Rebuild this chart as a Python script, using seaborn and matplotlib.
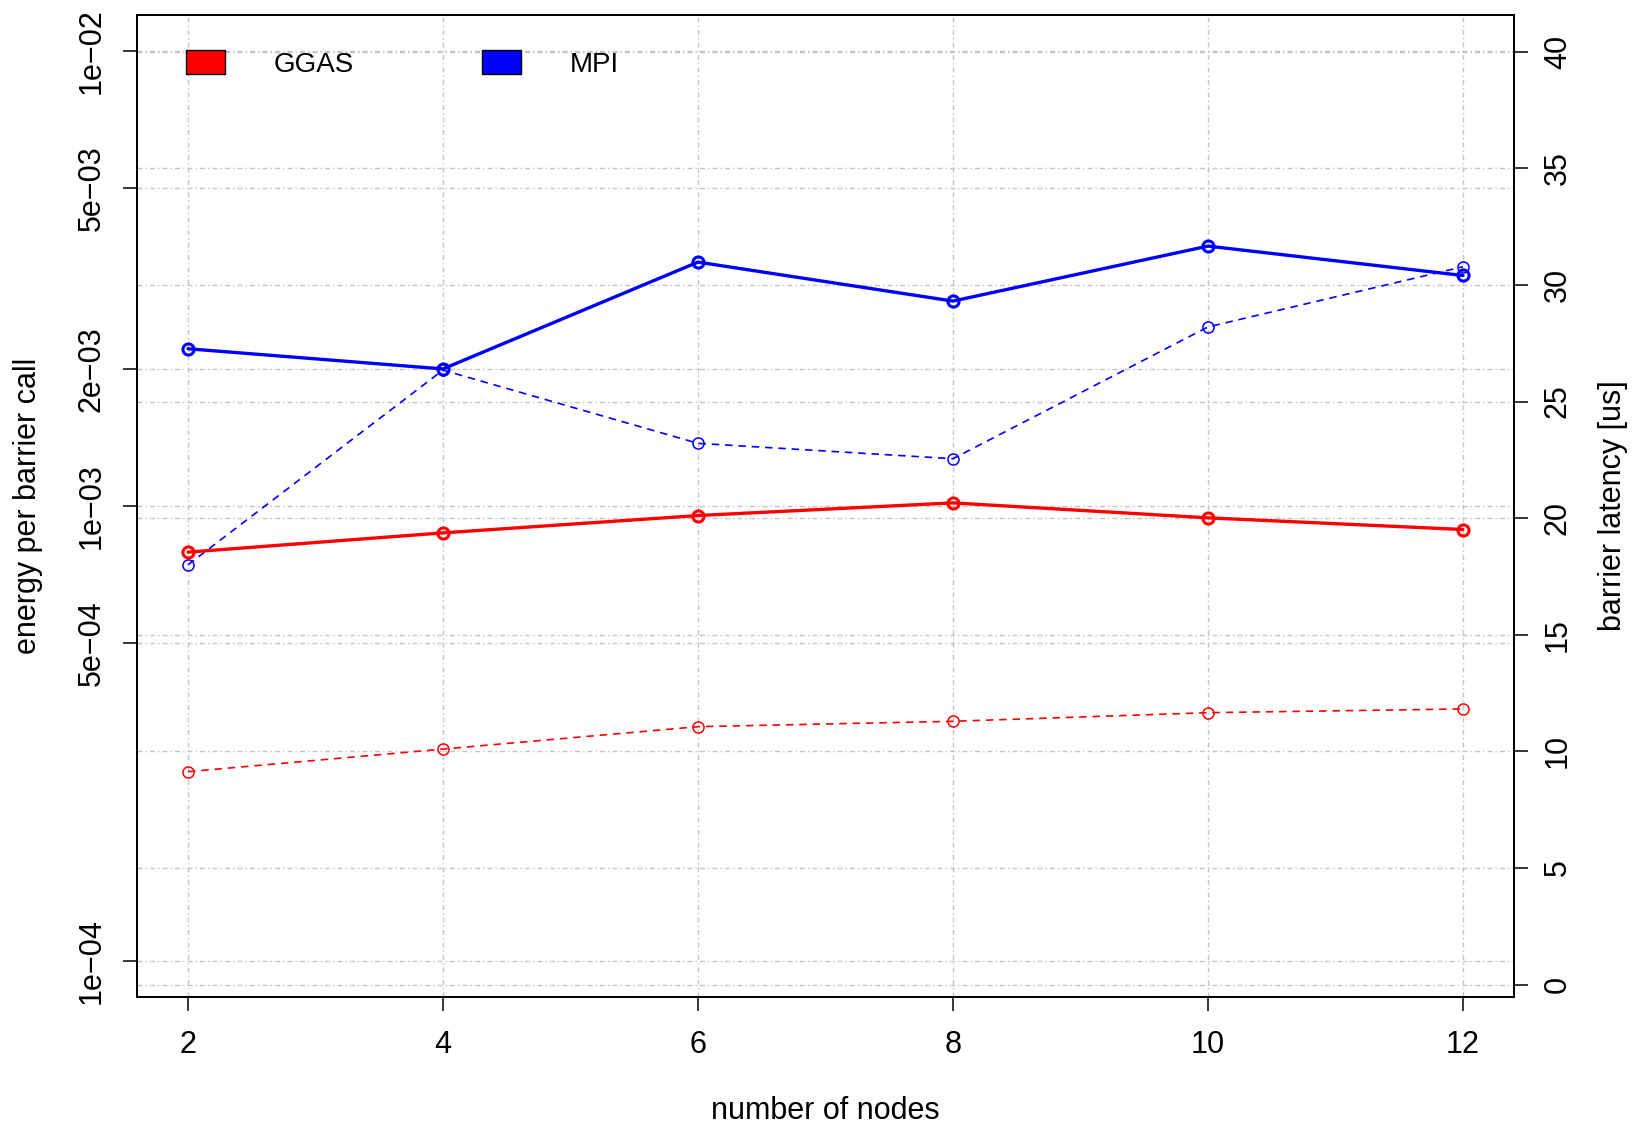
import matplotlib
matplotlib.use('Agg')
import matplotlib.pyplot as plt
from matplotlib.patches import Patch
import seaborn as sns

# data
nodes = [2, 4, 6, 8, 10, 12]
ggas_energy = [7.91e-4, 8.72e-4, 9.52e-4, 1.015e-3, 9.41e-4, 8.87e-4]
mpi_energy = [2.215e-3, 2.0e-3, 3.435e-3, 2.82e-3, 3.725e-3, 3.21e-3]
ggas_latency = [9.13, 10.1, 11.06, 11.29, 11.66, 11.82]
mpi_latency = [18.0, 26.35, 23.21, 22.55, 28.2, 30.78]

energy_ticks = [1e-4, 5e-4, 1e-3, 2e-3, 5e-3, 1e-2]
energy_labels = ['1e\u221204', '5e\u221204', '1e\u221203', '2e\u221203', '5e\u221203', '1e\u221202']
latency_ticks = [0, 5, 10, 15, 20, 25, 30, 35, 40]

sns.set_style('ticks')
plt.rcParams['font.family'] = ['Liberation Sans', 'DejaVu Sans']
plt.rcParams['axes.unicode_minus'] = True
plt.rcParams['text.color'] = 'black'
plt.rcParams['axes.labelcolor'] = 'black'
plt.rcParams['xtick.color'] = 'black'
plt.rcParams['ytick.color'] = 'black'

FS = 22
grid_kw = dict(color='#c4c4c4', linewidth=1.0, linestyle=(0, (3.6, 2.2, 1.0, 2.2)))

fig, ax = plt.subplots(figsize=(16.42, 11.26), dpi=100)
fig.subplots_adjust(left=0.0834, right=0.9220, bottom=0.1146, top=0.98695)

# left axis: energy (log), holds the grid
ax.set_yscale('log')
ax.set_ylim(10 ** -4.08, 10 ** -1.92)
ax.set_xlim(1.6, 12.4)
ax.set_xticks(nodes)
ax.set_yticks(energy_ticks)
ax.set_yticklabels(energy_labels)
ax.minorticks_off()
ax.grid(True, which='major', **grid_kw)
ax.tick_params(axis='both', direction='out', length=9.9, width=1.1, labelsize=FS,
               pad=12, top=False, right=False)
ax.tick_params(axis='x', pad=14)
ax.tick_params(axis='y', labelrotation=90)
for lab in ax.get_yticklabels():
    lab.set_va('center')
ax.set_xlabel('number of nodes', fontsize=FS, labelpad=26)
ax.set_ylabel('energy per barrier call', fontsize=FS, labelpad=24)

# right axis: latency (linear), dashed series
ax2 = ax.twinx()
ax2.set_ylim(-0.53, 41.59)
ax2.set_yticks(latency_ticks)
ax2.grid(True, axis='y', **grid_kw)
ax2.set_axisbelow(True)
ax2.tick_params(axis='y', direction='out', length=9.9, width=1.1, labelsize=FS,
                pad=11, labelrotation=90)
for lab in ax2.get_yticklabels():
    lab.set_va('center')
ax2.set_ylabel('barrier latency [us]', fontsize=FS, labelpad=18)

for y, c in [(ggas_latency, 'red'), (mpi_latency, 'blue')]:
    sns.lineplot(x=nodes, y=y, ax=ax2, color=c, marker='o', markersize=8,
                 markerfacecolor='none', markeredgecolor=c, markeredgewidth=1.1,
                 linewidth=1.2, dashes=(4.5, 3.5))

# third axis on top for the solid energy series
ax3 = ax.twinx()
ax3.set_yscale('log')
ax3.set_ylim(ax.get_ylim())
ax3.set_yticks([])
ax3.minorticks_off()
ax3.tick_params(right=False, labelright=False)
for s in ax3.spines.values():
    s.set_visible(False)

for y, c in [(ggas_energy, 'red'), (mpi_energy, 'blue')]:
    sns.lineplot(x=nodes, y=y, ax=ax3, color=c, marker='o', markersize=8,
                 markerfacecolor='none', markeredgecolor=c, markeredgewidth=2.2,
                 linewidth=2.4)

for a in (ax, ax2):
    for s in a.spines.values():
        s.set_visible(True)
        s.set_color('black')
        s.set_linewidth(1.3)

handles = [Patch(facecolor='red', edgecolor='black', linewidth=1.0, label='GGAS'),
           Patch(facecolor='blue', edgecolor='black', linewidth=1.0, label='MPI')]
ax3.legend(handles=handles, loc='upper left', bbox_to_anchor=(0.0356, 0.964), ncol=2,
           frameon=False, fontsize=20, handlelength=1.4, handleheight=0.95,
           handletextpad=1.76, columnspacing=4.6, borderpad=0, borderaxespad=0)

fig.savefig('out.png', dpi=100)
